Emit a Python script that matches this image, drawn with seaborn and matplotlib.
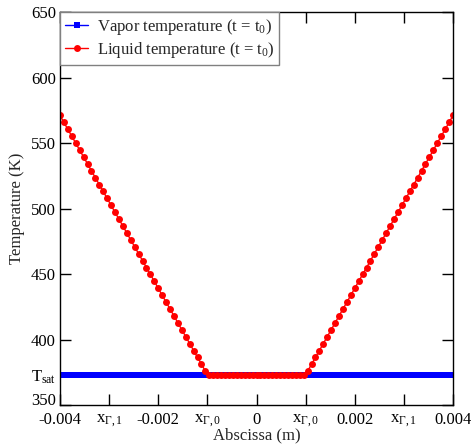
import numpy as np
import matplotlib
matplotlib.use('Agg')
from matplotlib import pyplot as plt
from matplotlib import transforms
import seaborn as sns

# abscissa grid (101 nodes from -0.004 to 0.004 m)
abscissa = np.linspace(-0.004, 0.004, 101)

T_sat = 373.15

# vapor temperature at t = t0
vapor_temp = [T_sat] * 101

# liquid temperature at t = t0
liquid_left = [571.0, 565.7, 560.4, 555.2, 549.9, 544.6, 539.3, 534.1, 528.8, 523.5,
               518.2, 513.0, 507.7, 502.4, 497.1, 491.9, 486.6, 481.3, 476.0, 470.8,
               465.5, 460.2, 454.9, 449.7, 444.4, 439.1, 433.8, 428.5, 423.3, 418.0,
               412.7, 407.4, 402.2, 396.9, 391.6, 386.3, 381.1, 375.8]
liquid_mid = [373.15, 373.15, 373.15, 373.15, 373.15, 373.15, 373.15, 373.15, 373.15,
              373.15, 373.15, 373.15, 373.15, 373.15, 373.15, 373.15, 373.15, 373.15,
              373.15, 373.15, 373.15, 373.15, 373.15, 373.15, 373.15]
liquid_right = [375.8, 381.1, 386.3, 391.6, 396.9, 402.2, 407.4, 412.7, 418.0, 423.3,
                428.5, 433.8, 439.1, 444.4, 449.7, 454.9, 460.2, 465.5, 470.8, 476.0,
                481.3, 486.6, 491.9, 497.1, 502.4, 507.7, 513.0, 518.2, 523.5, 528.8,
                534.1, 539.3, 544.6, 549.9, 555.2, 560.4, 565.7, 571.0]
liquid_temp = liquid_left + liquid_mid + liquid_right

x_ticks = [-0.004, -0.003, -0.002, -0.001, 0.0, 0.001, 0.002, 0.003, 0.004]
x_ticklabels = ['-0.004', r'x$_{\Gamma,1}$', '-0.002', r'x$_{\Gamma,0}$', '0',
                r'x$_{\Gamma,0}$', '0.002', r'x$_{\Gamma,1}$', '0.004']
y_ticks = [350, T_sat, 400, 450, 500, 550, 600, 650]
y_ticklabels = ['350', r'T$_{\mathregular{sat}}$', '400', '450', '500', '550', '600', '650']

sns.set_style('ticks')
plt.rcParams['font.family'] = ['Liberation Serif', 'DejaVu Serif']
plt.rcParams['mathtext.fontset'] = 'custom'
plt.rcParams['mathtext.rm'] = 'Liberation Serif'
plt.rcParams['mathtext.it'] = 'Liberation Serif'
plt.rcParams['mathtext.default'] = 'regular'

fig = plt.figure(figsize=(4.71, 4.46), dpi=100)
ax = fig.add_axes([60 / 471, 1 - 405 / 446, 393 / 471, 393 / 446])

sns.lineplot(x=abscissa, y=vapor_temp, ax=ax, color='blue', lw=1, marker='s',
             markersize=4, markeredgewidth=0, estimator=None,
             label='Vapor temperature (t = t$_0$)')
sns.lineplot(x=abscissa, y=liquid_temp, ax=ax, color='red', lw=1, marker='o',
             markersize=5, markeredgewidth=0, estimator=None,
             label='Liquid temperature (t = t$_0$)')

ax.set_xlim(-0.004, 0.004)
ax.set_ylim(350, 650)
ax.set_xticks(x_ticks)
ax.set_xticklabels(x_ticklabels)
ax.set_yticks(y_ticks)
ax.set_yticklabels(y_ticklabels)
ax.tick_params(direction='in', length=8, width=1, top=True, right=True,
               labelsize=12, colors='black', pad=3)
ax.tick_params(axis='x', pad=5)
# lift the bottom y label a little so it clears the first x label
lbl = ax.get_yticklabels()[0]
lbl.set_transform(lbl.get_transform() + transforms.ScaledTranslation(0, 4 / 72, fig.dpi_scale_trans))
for s in ax.spines.values():
    s.set_color('black')
    s.set_linewidth(1)

ax.set_xlabel('Abscissa (m)', fontsize=12, labelpad=-1)
ax.set_ylabel('Temperature (K)', fontsize=12, labelpad=4)

leg = ax.legend(loc='upper left', borderaxespad=0, fancybox=False, framealpha=1,
                edgecolor='gray', fontsize=12, handlelength=1.4, handletextpad=0.5,
                borderpad=0.3, labelspacing=0.2)
leg.get_frame().set_linewidth(1)

fig.savefig('out.png', dpi=100)
